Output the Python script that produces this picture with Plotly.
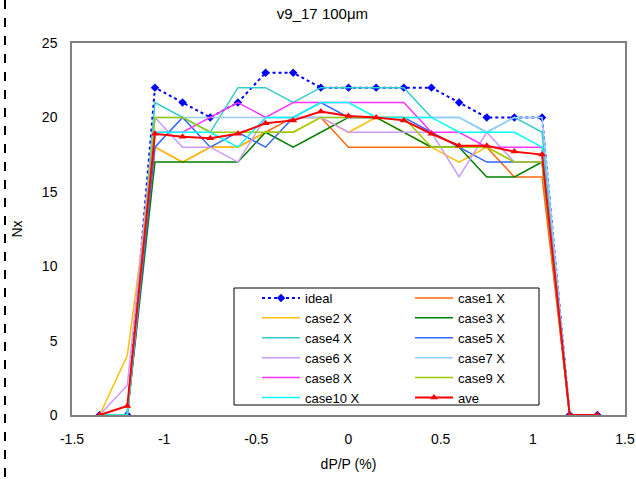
import plotly.graph_objects as go

x = [-1.35, -1.2, -1.05, -0.9, -0.75, -0.6, -0.45, -0.3, -0.15, 0, 0.15, 0.3, 0.45, 0.6, 0.75, 0.9, 1.05, 1.2, 1.35]

ideal  = [0, 0, 22, 21, 20, 21, 23, 23, 22, 22, 22, 22, 22, 21, 20, 20, 20, 0, 0]
case1  = [0, 0, 18, 17, 18, 18, 19, 20, 20, 18, 18, 18, 18, 18, 18, 16, 16, 0, 0]
case2  = [0, 4, 18, 17, 18, 18, 19, 19, 20, 19, 20, 19, 18, 17, 18, 17, 17, 0, 0]
case3  = [0, 0, 17, 17, 17, 17, 19, 18, 19, 20, 20, 19, 18, 18, 16, 16, 17, 0, 0]
case4  = [0, 0, 21, 20, 19, 22, 22, 21, 22, 22, 22, 22, 20, 20, 19, 20, 19, 0, 0]
case5  = [0, 0, 18, 20, 18, 19, 18, 20, 21, 20, 20, 20, 19, 18, 17, 17, 17, 0, 0]
case6  = [0, 2, 20, 18, 18, 17, 20, 20, 20, 19, 19, 19, 19, 16, 19, 17, 17, 0, 0]
case7  = [0, 0, 20, 20, 20, 20, 20, 20, 20, 20, 20, 20, 20, 20, 19, 20, 20, 0, 0]
case8  = [0, 0, 19, 19, 20, 21, 20, 21, 21, 21, 21, 21, 19, 19, 18, 18, 18, 0, 0]
case9  = [0, 0, 20, 20, 19, 19, 19, 19, 20, 20, 20, 20, 18, 18, 18, 17, 17, 0, 0]
case10 = [0, 0, 19, 19, 19, 18, 20, 20, 21, 21, 20, 20, 20, 19, 19, 19, 18, 0, 0]
ave    = [0, 0.6, 18.9, 18.7, 18.6, 18.9, 19.6, 19.8, 20.4, 20.1, 20.0, 19.8, 18.9, 18.1, 18.1, 17.7, 17.5, 0, 0]

case_names = ["case1 X", "case2 X", "case3 X", "case4 X", "case5 X",
              "case6 X", "case7 X", "case8 X", "case9 X", "case10 X"]
case_values = [case1, case2, case3, case4, case5, case6, case7, case8, case9, case10]
case_colors = ["#FF6A10", "#FFC000", "#008000", "#33CCCC", "#3366FF",
               "#CC99FF", "#99CCFF", "#FF33FF", "#99CC00", "#00FFFF"]

x_ticks = [-1.5, -1, -0.5, 0, 0.5, 1, 1.5]
x_tick_text = ["-1.5", "-1", "-0.5", "0", "0.5", "1", "1.5"]
y_ticks = [0, 5, 10, 15, 20, 25]

FONT = "Arial, Liberation Sans, sans-serif"

fig = go.Figure()
fig.add_trace(go.Scatter(
    x=x, y=ideal, name="ideal", mode="lines+markers", legend="legend",
    line=dict(color="#0000FF", width=2, dash="dot"),
    marker=dict(symbol="diamond", size=6.5, color="#0000FF"),
))
for i, (name, vals, col) in enumerate(zip(case_names, case_values, case_colors)):
    fig.add_trace(go.Scatter(
        x=x, y=vals, name=name, mode="lines",
        legend=("legend2" if i % 2 == 0 else "legend"),
        line=dict(color=col, width=1.5),
    ))
fig.add_trace(go.Scatter(
    x=x, y=ave, name="ave", mode="lines+markers", legend="legend2",
    line=dict(color="#FF0000", width=2),
    marker=dict(symbol="triangle-up", size=7, color="#FF0000"),
))

# plot area: x 72..625, y 43..415
def px_x(p):
    return (p - 72) / 553.0

def px_y(p):
    return (415 - p) / 372.0

legend_common = dict(orientation="v", xanchor="left", yanchor="top",
                     bgcolor="rgba(0,0,0,0)", borderwidth=0,
                     font=dict(family=FONT, size=13), itemwidth=38, tracegroupgap=0)

fig.update_layout(
    width=636, height=479,
    margin=dict(l=72, r=11, t=43, b=64, autoexpand=False),
    paper_bgcolor="white", plot_bgcolor="white",
    font=dict(family=FONT, size=14, color="black"),
    title=dict(text="v9_17 100μm", x=0.507, xref="container", y=0.972, yref="container",
               xanchor="center", yanchor="middle", font=dict(family=FONT, size=15)),
    xaxis=dict(range=[-1.5, 1.5], tickvals=x_ticks, ticktext=x_tick_text,
               showgrid=False, zeroline=False, showline=True, linecolor="#808080",
               linewidth=1.5, mirror=True, ticks="", ticklabelstandoff=10,
               title=dict(text="dP/P (%)", standoff=14, font=dict(size=14))),
    yaxis=dict(range=[0, 25], tickvals=y_ticks,
               showgrid=False, zeroline=False, showline=True, linecolor="#808080",
               linewidth=1.5, mirror=True, ticks="", ticklabelstandoff=10,
               title=dict(text="Nx", standoff=16, font=dict(size=14))),
    legend=dict(x=px_x(257), y=px_y(283), **legend_common),
    legend2=dict(x=px_x(410), y=px_y(283), **legend_common),
    showlegend=True,
    shapes=[
        dict(type="rect", xref="paper", yref="paper",
             x0=px_x(234), x1=px_x(539), y0=px_y(288), y1=px_y(405),
             line=dict(color="black", width=1), fillcolor="white", layer="below"),
        dict(type="line", xref="paper", yref="paper",
             x0=px_x(5), x1=px_x(5), y0=px_y(0), y1=px_y(479),
             line=dict(color="black", width=2, dash="dash")),
    ],
)

fig.write_html("out.html")
